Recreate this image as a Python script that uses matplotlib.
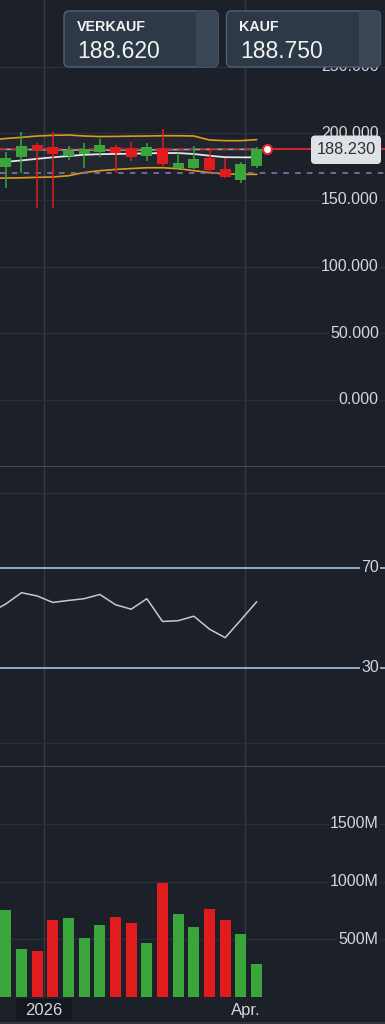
import pandas as pd
import numpy as np
import matplotlib
matplotlib.use('Agg')
import matplotlib.pyplot as plt
import matplotlib.dates as mdates
import matplotlib.transforms as mtransforms
from matplotlib.patches import FancyBboxPatch, Rectangle

plt.rcParams['font.family'] = ['Liberation Sans', 'DejaVu Sans']
plt.rcParams['lines.scale_dashes'] = False

# weekly candles (week start)
week_starts = ['2025-12-15', '2025-12-22', '2025-12-29', '2026-01-05', '2026-01-12',
               '2026-01-19', '2026-01-26', '2026-02-02', '2026-02-09', '2026-02-16',
               '2026-02-23', '2026-03-02', '2026-03-09', '2026-03-16', '2026-03-23',
               '2026-03-30', '2026-04-06']
opens = [175.0, 182.0, 191.25, 189.75, 183.2, 184.3, 186.2, 189.75, 189.25, 183.2,
         188.75, 174.25, 173.75, 181.25, 173.25, 165.0, 175.75]
closes = [181.3, 190.5, 187.5, 184.3, 186.75, 188.0, 191.25, 185.0, 182.5, 189.75,
          176.75, 178.0, 180.5, 172.25, 167.25, 177.0, 188.23]
highs = [185.8, 201.2, 193.0, 201.2, 190.5, 192.5, 195.75, 191.25, 193.75, 192.5,
         203.25, 185.0, 190.5, 188.75, 181.25, 178.75, 190.0]
lows = [158.8, 170.5, 143.8, 143.8, 179.75, 173.75, 182.5, 170.0, 179.25, 179.25,
        175.75, 172.5, 173.0, 170.0, 166.75, 163.0, 173.75]
volumes_m = [752, 420, 396, 668, 683, 509, 622, 691, 639, 472, 986, 717, 604, 760,
             668, 544, 289]

# indicator lines start one week earlier
ind_weeks = ['2025-12-08'] + week_starts
bb_upper = [195.0, 196.1, 197.0, 198.0, 198.5, 198.75, 198.0, 197.6, 197.7, 197.9,
            198.0, 198.2, 198.2, 198.0, 195.0, 194.5, 194.5, 195.3]
bb_lower = [166.3, 166.5, 166.65, 167.0, 167.25, 168.2, 170.6, 172.0, 172.9, 173.6,
            174.2, 174.2, 173.5, 172.0, 170.5, 169.5, 169.25, 169.25]
bb_mid = [177.6, 178.6, 179.7, 180.9, 182.0, 183.0, 183.9, 184.4, 184.5, 184.7,
          185.0, 185.2, 185.2, 184.5, 183.2, 182.1, 182.0, 182.0]
sma_long = [188.0, 188.0, 187.9, 187.8, 187.7, 187.6, 187.5, 187.5, 187.5, 187.5,
            187.6, 187.7, 187.8, 187.9, 188.0, 188.0, 188.0, 188.0]
rsi = [52.0, 55.5, 60.0, 58.7, 56.1, 56.9, 57.6, 59.3, 55.2, 53.4, 57.6, 48.5, 48.8,
       50.6, 45.4, 42.0, 49.1, 56.3]

last_price = 188.23
sell_price = '188.620'
buy_price = '188.750'
support_level = 170.0
price_ticks = [0, 50, 100, 150, 200, 250]
rsi_levels = [30, 70]
vol_ticks = [500, 1000, 1500]
x_labels = [('2026-01-01', '2026'), ('2026-04-01', 'Apr.')]

BG = '#1b2029'
GRID = '#2a3039'
VGRID = '#343a43'
SEP = '#4a505a'
TXT = '#d3d6dc'
GREEN = '#3aa53a'
RED = '#e01c1c'

x = mdates.date2num(pd.to_datetime(week_starts))
xi = mdates.date2num(pd.to_datetime(ind_weeks))
o = np.array(opens); c = np.array(closes)
up = c >= o
cols = np.where(up, GREEN, RED)

fig = plt.figure(figsize=(3.85, 10.24), dpi=100)
fig.patch.set_facecolor(BG)

H = 1024.0
ax_p = fig.add_axes([0, 1 - 467 / H, 1, 467 / H])
ax_r = fig.add_axes([0, 1 - 767 / H, 1, 300 / H])
ax_v = fig.add_axes([0, 1 - 997 / H, 1, 230 / H])

xmin = x[0] - 0.372 * 7
xmax = x[0] + 24.2 * 7
for ax in (ax_p, ax_r, ax_v):
    ax.set_facecolor(BG)
    ax.set_xlim(xmin, xmax)
    ax.set_xticks([]); ax.set_yticks([])
    for s in ax.spines.values():
        s.set_visible(False)
    for d, _ in x_labels:
        ax.axvline(mdates.date2num(pd.Timestamp(d)), color=VGRID, lw=1.0, zorder=0)

for ax in (ax_p, ax_r):
    ax.spines['bottom'].set_visible(True)
    ax.spines['bottom'].set_color(SEP)
    ax.spines['bottom'].set_linewidth(1.3)


def right_label(ax, y, s):
    tr = mtransforms.blended_transform_factory(ax.transAxes, ax.transData)
    ax.text(0.984, y, s, transform=tr, ha='right', va='center', fontsize=11.5,
            color=TXT, zorder=6,
            bbox=dict(boxstyle='square,pad=0.08', fc=BG, ec='none'))


# ---- price pane
ax_p.set_ylim(-50.25, 300)
for v in price_ticks:
    ax_p.axhline(v, color=GRID, lw=1.0, zorder=0)
    right_label(ax_p, v, f'{v:.3f}')

ax_p.fill_between(xi, bb_lower, bb_upper, color='#ffffff', alpha=0.03, lw=0, zorder=1)
ax_p.plot(xi, bb_upper, color='#e09a1a', lw=1.2, zorder=2)
ax_p.plot(xi, bb_lower, color='#e09a1a', lw=1.2, zorder=2)
ax_p.plot(xi, sma_long, color='#a3a6ad', lw=1.2, zorder=2)
ax_p.plot(xi, bb_mid, color='#e6e6e6', lw=1.3, zorder=2)

ax_p.plot([xmin, xmax], [support_level] * 2, color='#7b6f9e', lw=1.3,
          dashes=(4, 4.5), zorder=2)
ax_p.plot([xmin, x[-1]], [last_price] * 2, color='#b82828', lw=1.3,
          dashes=(4.5, 3.5), zorder=2)

ax_p.vlines(x, lows, highs, colors=cols, lw=1.1, zorder=3)
ax_p.bar(x, np.abs(c - o), bottom=np.minimum(o, c), width=5.0, color=cols,
         lw=0, zorder=4)

ax_p.plot([x[-1] + 4.7, xmax], [last_price] * 2, color='#e3262b', lw=1.3, zorder=5)
ax_p.plot([x[-1] + 4.7], [last_price], 'o', ms=6.5, mfc='white', mec='#e3262b',
          mew=1.5, zorder=6)

# ---- rsi pane
ax_r.set_ylim(-9.72, 110.28)
for v in (0, 100):
    ax_r.axhline(v, color=GRID, lw=1.0, zorder=0)
for v in rsi_levels:
    ax_r.axhline(v, color='#a6c3e6', lw=1.2, zorder=1)
    right_label(ax_r, v, str(v))
ax_r.plot(xi, rsi, color='#c9c9c9', lw=1.1, zorder=3)

# ---- volume pane
ax_v.set_ylim(0, 1994)
for v in vol_ticks:
    ax_v.axhline(v, color=GRID, lw=1.0, zorder=0)
    right_label(ax_v, v, f'{v}M')
ax_v.bar(x, volumes_m, width=5.0, color=cols, lw=0, zorder=3)

# ---- overlay: quote boxes, price tag, time labels
ov = fig.add_axes([0, 0, 1, 1], zorder=10)
ov.set_xlim(0, 385); ov.set_ylim(1024, 0)
ov.axis('off'); ov.patch.set_alpha(0)


def quote_box(x0, x1, title, price):
    outer = FancyBboxPatch((x0, 11), x1 - x0, 56,
                           boxstyle='round,pad=0,rounding_size=5',
                           fc='#2e3948', ec='#56616f', lw=1.0)
    ov.add_patch(outer)
    strip = Rectangle((x1 - 22, 11), 22, 56, fc='#3a4656', ec='none')
    ov.add_patch(strip)
    strip.set_clip_path(outer)
    ov.text(x0 + 13, 27, title, fontsize=10.3, fontweight='bold', color='#f2f2f2',
            ha='left', va='center')
    ov.text(x0 + 13.5, 51.5, price, fontsize=16.5, color='#f2f2f2',
            ha='left', va='center')


quote_box(64, 218, 'VERKAUF', sell_price)
quote_box(226.5, 380.5, 'KAUF', buy_price)

ov.add_patch(FancyBboxPatch((311, 135.5), 70, 28.5,
                            boxstyle='round,pad=0,rounding_size=4',
                            fc='#dfe1e5', ec='none'))
ov.text(346, 150, f'{last_price:.3f}', fontsize=11.8, color='#2b2f36',
        ha='center', va='center')

ov.add_patch(Rectangle((16, 999), 56, 22, fc='#131720', ec='none'))
ov.plot([0, 385], [1023, 1023], color='#30363f', lw=1.5)

tr_x = mtransforms.blended_transform_factory(ax_v.transData, ov.transData)
for d, lab in x_labels:
    ov.text(mdates.date2num(pd.Timestamp(d)), 1010.5, lab, transform=tr_x,
            ha='center', va='center', fontsize=12, color=TXT, clip_on=False)

fig.savefig('out.png', dpi=100, facecolor=BG)
